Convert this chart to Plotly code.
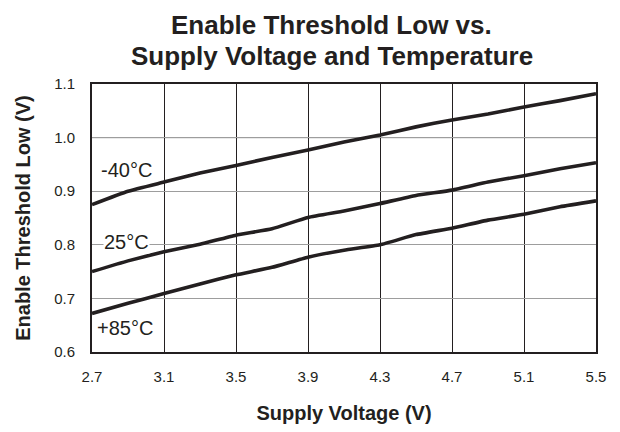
import plotly.graph_objects as go

# Supply voltage (V)
supply_v = [2.7, 2.9, 3.1, 3.3, 3.5, 3.7, 3.9, 4.1, 4.3, 4.5, 4.7, 4.9, 5.1, 5.3, 5.5]

# Enable threshold low (V) per temperature
vth_m40 = [0.875, 0.900, 0.917, 0.934, 0.948, 0.963, 0.977, 0.992, 1.005, 1.020, 1.033, 1.044, 1.057, 1.069, 1.082]
vth_25 = [0.750, 0.770, 0.787, 0.801, 0.818, 0.830, 0.851, 0.863, 0.877, 0.892, 0.902, 0.917, 0.929, 0.942, 0.953]
vth_85 = [0.672, 0.691, 0.709, 0.727, 0.744, 0.758, 0.777, 0.790, 0.800, 0.819, 0.831, 0.846, 0.857, 0.871, 0.882]

series_names = ["-40°C", "25°C", "+85°C"]
label_x = [2.89, 2.89, 2.885]
label_y = [0.939, 0.805, 0.644]

x_ticks = [2.7, 3.1, 3.5, 3.9, 4.3, 4.7, 5.1, 5.5]
x_ticktext = ["2.7", "3.1", "3.5", "3.9", "4.3", "4.7", "5.1", "5.5"]
y_ticks = [0.6, 0.7, 0.8, 0.9, 1.0, 1.1]
y_ticktext = ["0.6", "0.7", "0.8", "0.9", "1.0", "1.1"]

title_lines = ["Enable Threshold Low vs.", "Supply Voltage and Temperature"]

INK = "#231f20"
FONT = "Liberation Sans, Arial, Helvetica, sans-serif"

fig = go.Figure()
for name, ys in zip(series_names, [vth_m40, vth_25, vth_85]):
    fig.add_trace(go.Scatter(
        x=supply_v, y=ys, mode="lines", name=name,
        line=dict(color=INK, width=3.6, shape="spline", smoothing=0.4),
        showlegend=False, hoverinfo="skip",
    ))

# black gridline at 1.0 (others gray)
fig.add_shape(type="line", xref="paper", x0=0, x1=1, yref="y", y0=1.0, y1=1.0,
              line=dict(color=INK, width=1), layer="below")

for name, lx, ly in zip(series_names, label_x, label_y):
    fig.add_annotation(x=lx, y=ly, xref="x", yref="y", text=name, showarrow=False,
                       font=dict(family=FONT, size=20, color=INK),
                       bgcolor="white", borderpad=0)

# two-line title
for txt, ty in zip(title_lines, [1.283, 1.168]):
    fig.add_annotation(x=0.476, y=ty, xref="paper", yref="paper",
                       text="<b>" + txt + "</b>", showarrow=False,
                       xanchor="center", yanchor="top",
                       font=dict(family=FONT, size=26, color=INK))

fig.update_layout(
    width=620, height=432,
    margin=dict(l=84, r=32, t=76, b=88),
    paper_bgcolor="white", plot_bgcolor="white",
    font=dict(family=FONT, color=INK),
    xaxis=dict(
        range=[2.7, 5.5], tickvals=x_ticks, ticktext=x_ticktext,
        showgrid=True, gridcolor=INK, gridwidth=1,
        showline=True, mirror=True, linecolor=INK, linewidth=2,
        ticks="", ticklabelstandoff=10,
        tickfont=dict(family=FONT, size=15, color=INK),
        zeroline=False,
        title=dict(text="<b>Supply Voltage (V)</b>", standoff=22,
                   font=dict(family=FONT, size=20, color=INK)),
    ),
    yaxis=dict(
        range=[0.6, 1.1], tickvals=y_ticks, ticktext=y_ticktext,
        showgrid=True, gridcolor="#9d9d9d", gridwidth=1,
        showline=True, mirror=True, linecolor=INK, linewidth=2,
        ticks="", ticklabelstandoff=12,
        tickfont=dict(family=FONT, size=15, color=INK),
        zeroline=False,
        title=dict(text="<b>Enable Threshold Low (V)</b>", standoff=18,
                   font=dict(family=FONT, size=20, color=INK)),
    ),
)

fig.write_html("out.html")
